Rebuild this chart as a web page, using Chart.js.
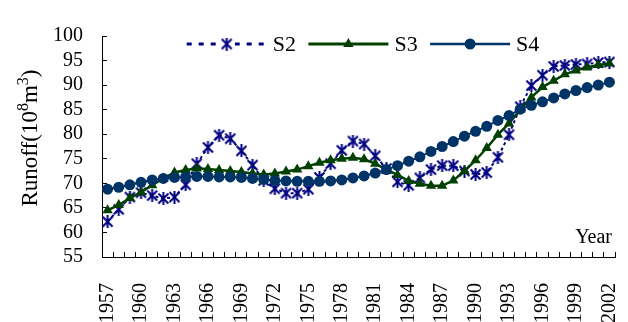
<!DOCTYPE html>
<html>
<head>
<meta charset="utf-8">
<script src="https://cdn.jsdelivr.net/npm/chart.js@4/dist/chart.umd.min.js"></script>
<style>
  html, body { margin: 0; padding: 0; background: #ffffff; }
  #wrap { width: 628px; height: 322px; }
</style>
</head>
<body>
<div id="wrap"><canvas id="c" width="628" height="322"></canvas></div>
<script>
// Annual runoff (10^8 m^3), 1957-2002, three scenarios
const years = ['1957','1958','1959','1960','1961','1962','1963','1964','1965','1966',
               '1967','1968','1969','1970','1971','1972','1973','1974','1975','1976',
               '1977','1978','1979','1980','1981','1982','1983','1984','1985','1986',
               '1987','1988','1989','1990','1991','1992','1993','1994','1995','1996',
               '1997','1998','1999','2000','2001','2002'];

const s2 = [62.2, 64.7, 67.2, 68.1, 67.5, 66.9, 67.2, 69.7, 74.0, 77.3,
            79.8, 79.1, 76.6, 73.7, 70.6, 68.9, 68.0, 68.0, 68.8, 71.2,
            74.0, 76.7, 78.6, 78.0, 75.6, 73.0, 70.3, 69.6, 71.1, 72.8,
            73.6, 73.6, 72.5, 71.8, 72.2, 75.3, 79.9, 85.6, 89.9, 92.0,
            93.8, 94.0, 94.2, 94.3, 94.6, 94.7];

const s3 = [64.5, 65.6, 67.0, 68.2, 69.6, 71.0, 72.2, 72.7, 73.0, 72.9,
            72.7, 72.5, 72.3, 72.0, 71.8, 72.0, 72.4, 72.8, 73.5, 74.2,
            74.7, 75.0, 75.2, 74.9, 74.0, 72.8, 71.7, 70.5, 69.9, 69.5,
            69.5, 70.6, 72.5, 74.7, 77.2, 79.9, 82.2, 85.0, 87.5, 89.6,
            90.9, 92.2, 93.0, 93.6, 94.1, 94.4];

const s4 = [68.8, 69.2, 69.7, 70.2, 70.7, 71.0, 71.2, 71.3, 71.4, 71.4,
            71.3, 71.3, 71.2, 71.0, 70.8, 70.6, 70.5, 70.4, 70.4, 70.4,
            70.5, 70.7, 71.1, 71.5, 72.1, 72.8, 73.6, 74.5, 75.4, 76.5,
            77.5, 78.5, 79.6, 80.6, 81.6, 82.8, 83.8, 85.1, 85.9, 86.6,
            87.4, 88.2, 88.9, 89.5, 90.0, 90.6];

const seriesNames = ['S2', 'S3', 'S4'];
const yAxisTitle = ['Runoff(10', '8', 'm', '3', ')'];
const xAxisTitle = 'Year';

const SERIF = '"Liberation Serif", "Times New Roman", serif';
const C2 = '#000080', C3 = '#004000', C4 = '#003366';

// six-armed asterisk marker (X plus vertical bar)
function makeAsterisk(size, color, lw) {
  const c = document.createElement('canvas');
  c.width = size; c.height = size;
  const g = c.getContext('2d');
  g.strokeStyle = color; g.lineWidth = lw;
  const m = size / 2, d = size / 2 - 1.5;
  g.beginPath();
  g.moveTo(m - d, m - d); g.lineTo(m + d, m + d);
  g.moveTo(m + d, m - d); g.lineTo(m - d, m + d);
  g.moveTo(m, 0); g.lineTo(m, size);
  g.stroke();
  return c;
}
const asterisk = makeAsterisk(13, C2, 2);

// legend, axis titles drawn on top of the plot
const decor = {
  id: 'decor',
  afterDraw(chart) {
    const ctx = chart.ctx;
    const area = chart.chartArea;
    ctx.save();

    // legend row inside the plot
    const ly = 44, lineLen = 80, step = 121.7;
    chart.data.datasets.forEach((ds, i) => {
      const x0 = 186.7 + i * step;
      ctx.save();
      ctx.strokeStyle = ds.borderColor;
      ctx.lineWidth = ds.legendLineWidth;
      ctx.setLineDash(ds.legendDash || []);
      ctx.beginPath();
      ctx.moveTo(x0, ly); ctx.lineTo(x0 + lineLen, ly);
      ctx.stroke();
      ctx.restore();
      const cx = x0 + lineLen / 2;
      ctx.fillStyle = ds.backgroundColor;
      if (ds.pointStyle === 'circle') {
        ctx.beginPath(); ctx.arc(cx, ly, ds.pointRadius, 0, Math.PI * 2); ctx.fill();
      } else if (ds.pointStyle === 'triangle') {
        const r = ds.pointRadius;
        ctx.beginPath();
        for (let k = 0; k < 3; k++) {
          const a = k * 2 * Math.PI / 3;
          const px = cx + Math.sin(a) * r, py = ly - Math.cos(a) * r;
          if (k === 0) ctx.moveTo(px, py); else ctx.lineTo(px, py);
        }
        ctx.closePath(); ctx.fill();
      } else {
        ctx.fillStyle = '#ffffff';
        ctx.fillRect(cx - 8, ly - 3, 16, 6);
        ctx.drawImage(ds.pointStyle, cx - ds.pointStyle.width / 2, ly - ds.pointStyle.height / 2);
      }
      ctx.fillStyle = '#000';
      ctx.font = '22px ' + SERIF;
      ctx.textAlign = 'left';
      ctx.textBaseline = 'middle';
      ctx.fillText(ds.label, x0 + lineLen + 6, ly + 1);
    });

    // x-axis title in the lower right corner of the plot
    ctx.fillStyle = '#000';
    ctx.font = '20px ' + SERIF;
    ctx.textAlign = 'right';
    ctx.textBaseline = 'alphabetic';
    ctx.fillText(xAxisTitle, area.right - 3, area.bottom - 14);

    // rotated y-axis title with superscripts
    const big = '23px ' + SERIF, small = '16px ' + SERIF;
    const parts = yAxisTitle.map((t, i) => ({ t, sup: i === 1 || i === 3 }));
    let total = 0;
    parts.forEach(p => { ctx.font = p.sup ? small : big; p.w = ctx.measureText(p.t).width; total += p.w; });
    ctx.translate(37, 138);
    ctx.rotate(-Math.PI / 2);
    ctx.textAlign = 'left';
    let x = -total / 2;
    parts.forEach(p => {
      ctx.font = p.sup ? small : big;
      ctx.fillText(p.t, x, p.sup ? -9 : 0);
      x += p.w;
    });
    ctx.restore();
  }
};

new Chart(document.getElementById('c'), {
  type: 'line',
  data: {
    labels: years,
    datasets: [
      { label: seriesNames[0], data: s2, borderColor: C2, backgroundColor: C2,
        borderWidth: 2, borderDash: [3, 3], legendLineWidth: 3, legendDash: [5, 7],
        pointStyle: asterisk, pointRadius: 6, order: 2 },
      { label: seriesNames[1], data: s3, borderColor: C3, backgroundColor: C3,
        borderWidth: 2.5, legendLineWidth: 3,
        pointStyle: 'triangle', pointRadius: 6, pointBorderWidth: 0, order: 1 },
      { label: seriesNames[2], data: s4, borderColor: C4, backgroundColor: C4,
        borderWidth: 2, legendLineWidth: 2.5,
        pointStyle: 'circle', pointRadius: 5.5, pointBorderWidth: 0, order: 0 }
    ]
  },
  options: {
    responsive: false,
    animation: false,
    devicePixelRatio: 1,
    layout: { padding: { top: 18, right: 13, left: 0, bottom: 0 } },
    plugins: { legend: { display: false }, tooltip: { enabled: false } },
    elements: { line: { tension: 0, fill: false } },
    scales: {
      x: {
        type: 'category',
        offset: true,
        grid: { offset: true, drawOnChartArea: false, drawTicks: true, tickLength: -5, color: '#000', lineWidth: 1 },
        border: { display: true, color: '#000', width: 1 },
        ticks: {
          autoSkip: false, maxRotation: 90, minRotation: 90, padding: 31,
          color: '#000', font: { family: SERIF, size: 20 },
          callback: (v, i) => (i % 3 === 0 ? years[i] : '')
        },
        afterFit: s => { s.height = 65; s.paddingLeft = 0; s.paddingRight = 0; }
      },
      y: {
        min: 55, max: 100,
        grid: { drawOnChartArea: false, drawTicks: true, tickLength: -5, color: '#000', lineWidth: 1 },
        border: { display: true, color: '#000', width: 1 },
        ticks: { stepSize: 5, autoSkip: false, padding: 24, color: '#000', font: { family: SERIF, size: 20 } },
        afterFit: s => { s.width = 102; }
      }
    }
  },
  plugins: [decor]
});
</script>
</body>
</html>
